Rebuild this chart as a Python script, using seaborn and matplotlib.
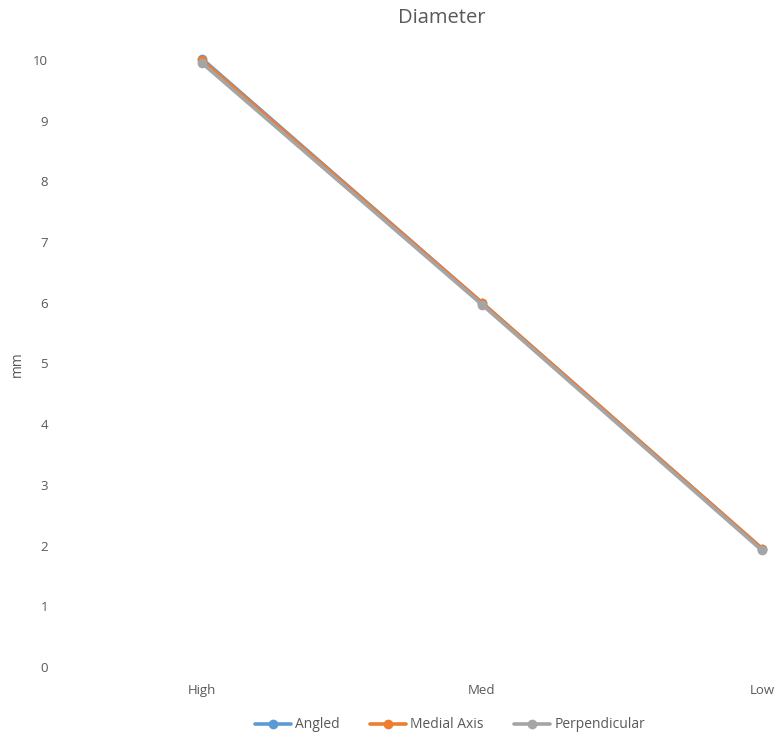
import pandas as pd
import matplotlib.pyplot as plt
import seaborn as sns

# Data
levels = ["High", "Med", "Low"]
angled = [10.02, 6.0, 1.95]
medial_axis = [10.0, 6.0, 1.95]
perpendicular = [9.95, 5.97, 1.92]

series_names = ["Angled", "Medial Axis", "Perpendicular"]
colors = ["#5B9BD5", "#ED7D31", "#A5A5A5"]

rows = []
for name, vals in zip(series_names, [angled, medial_axis, perpendicular]):
    for lvl, v in zip(levels, vals):
        rows.append({"Level": lvl, "mm": v, "Series": name})
df = pd.DataFrame(rows)

sns.set_style("white")
plt.rcParams["font.family"] = ["Open Sans", "DejaVu Sans"]
text_color = "#595959"

fig = plt.figure(figsize=(7.8, 7.4), dpi=100)
ax = fig.add_axes([62 / 780, 73 / 740, 840 / 780, 607 / 740])

sns.lineplot(data=df, x="Level", y="mm", hue="Series", palette=colors,
             marker="o", markersize=7, markeredgewidth=0, linewidth=2.6,
             sort=False, ax=ax, legend=True)
for ln in ax.lines:
    ln.set_clip_on(False)

ax.set_xlim(-0.5, 2.5)
ax.set_ylim(0, 10)
ax.set_yticks(range(0, 11))
ax.tick_params(axis="both", colors=text_color, labelsize=9.5, length=0)
ax.tick_params(axis="y", pad=10)
ax.tick_params(axis="x", pad=12)
for s in ax.spines.values():
    s.set_visible(False)
ax.set_xlabel("")
ax.set_ylabel("")
fig.text(17 / 780, 1 - 364 / 740, "mm", rotation=90, ha="center", va="center",
         fontsize=10, color=text_color)

fig.text(442 / 780, 1 - 18 / 740, "Diameter", ha="center", va="center",
         fontsize=14.5, color=text_color)

handles, labels = ax.get_legend_handles_labels()
ax.legend_.remove()
fig.legend(handles, labels, loc="center", bbox_to_anchor=(450 / 780, 1 - 725 / 740),
           ncol=3, frameon=False, fontsize=10, labelcolor=text_color,
           handlelength=2.6, handletextpad=0.3, columnspacing=2.2)

fig.savefig("out.png", dpi=100)
